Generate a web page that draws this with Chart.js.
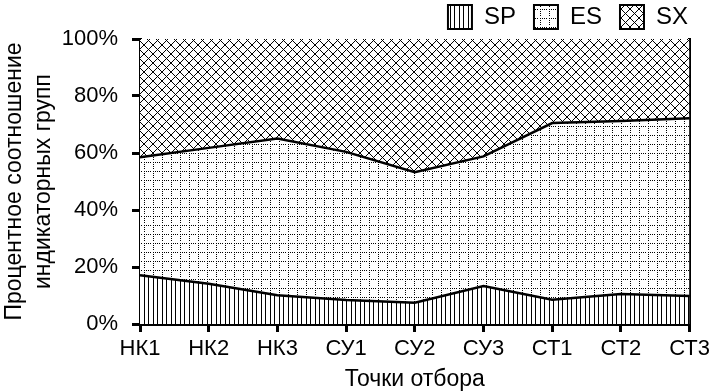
<!DOCTYPE html>
<html>
<head>
<meta charset="utf-8">
<script src="https://cdn.jsdelivr.net/npm/chart.js@4.4.1/dist/chart.umd.min.js"></script>
<style>
  html, body { margin: 0; padding: 0; background: #fff; }
  canvas { display: block; }
</style>
</head>
<body>
<canvas id="myChart" width="714" height="391"></canvas>
<script>
// точки отбора
const labels = ["НК1", "НК2", "НК3", "СУ1", "СУ2", "СУ3", "СТ1", "СТ2", "СТ3"];
// доли групп, %
const sp = [17.1, 14.1, 10.1, 8.4, 7.5, 13.3, 8.5, 10.5, 9.8];
const es = [41.4, 47.7, 55.0, 52.0, 45.8, 45.5, 62.0, 60.7, 62.4];
const sx = [41.5, 38.2, 34.9, 39.6, 46.7, 41.2, 29.5, 28.8, 27.8];
const yTicks = [0, 20, 40, 60, 80, 100];

const FONT = "'Liberation Sans', Arial, sans-serif";

function makePattern(size, draw) {
  const c = document.createElement("canvas");
  c.width = size;
  c.height = size;
  const g = c.getContext("2d");
  g.fillStyle = "#fff";
  g.fillRect(0, 0, size, size);
  g.fillStyle = "#000";
  draw(g, size);
  return c.getContext("2d").createPattern(c, "repeat");
}

// вертикальные линии
const spPattern = makePattern(9, (g, n) => {
  g.fillRect(0, 0, 1, n);
  g.fillRect(4, 0, 1, n);
});
// пунктирная сетка
const esPattern = makePattern(9, (g, n) => {
  for (let i = 0; i < n - 1; i += 2) {
    g.fillRect(i, 0, 1, 1);
    g.fillRect(0, i, 1, 1);
  }
});
// косая сетка
const sxPattern = makePattern(9, (g, n) => {
  for (let i = 0; i < n; i++) {
    g.fillRect(i, i, 1, 1);
    g.fillRect(n - 1 - i, i, 1, 1);
  }
});

const ctx = document.getElementById("myChart").getContext("2d");
const myChart = new Chart(ctx, {
  type: "line",
  data: {
    labels: labels,
    datasets: [
      { label: "SP", data: sp, fill: "origin", backgroundColor: spPattern,
        borderColor: "#000", borderWidth: 2.5, pointRadius: 0, tension: 0 },
      { label: "ES", data: es, fill: "-1", backgroundColor: esPattern,
        borderColor: "#000", borderWidth: 2.5, pointRadius: 0, tension: 0 },
      { label: "SX", data: sx, fill: "-1", backgroundColor: sxPattern,
        borderColor: "#000", borderWidth: 0, pointRadius: 0, tension: 0 },
    ],
  },
  options: {
    responsive: false,
    animation: false,
    devicePixelRatio: 1,
    layout: { padding: { left: 0, right: 8, top: -13, bottom: 0 } },
    plugins: {
      tooltip: { enabled: false },
      legend: {
        position: "top",
        align: "end",
        labels: {
          boxWidth: 24,
          boxHeight: 24,
          padding: 18,
          color: "#000",
          font: { family: FONT, size: 24 },
          generateLabels: (chart) =>
            chart.data.datasets.map((d, i) => ({
              text: d.label,
              fillStyle: d.backgroundColor,
              strokeStyle: "#000",
              lineWidth: 2,
              datasetIndex: i,
            })),
        },
      },
    },
    scales: {
      x: {
        offset: false,
        grid: { drawOnChartArea: false, color: "#000", lineWidth: 3, tickLength: 8 },
        border: { color: "#000", width: 3 },
        ticks: { color: "#000", font: { family: FONT, size: 22 }, padding: 4, maxRotation: 0 },
        title: { display: true, text: "Точки отбора", color: "#000",
                 font: { family: FONT, size: 23, lineHeight: 1.0 }, padding: { top: 0, bottom: 0 } },
        afterFit: (s) => { s.height = 67; },
      },
      y: {
        stacked: true,
        min: 0,
        max: 100,
        afterBuildTicks: (s) => { s.ticks = yTicks.map((v) => ({ value: v })); },
        grid: { drawOnChartArea: false, color: "#000", lineWidth: 3, tickLength: 8 },
        border: { color: "#000", width: 3 },
        ticks: { color: "#000", font: { family: FONT, size: 22 }, padding: 14,
                 callback: (v) => v + "%" },
        title: { display: true, text: ["Процентное соотношение", "индикаторных групп"],
                 color: "#000", font: { family: FONT, size: 23, lineHeight: 1.26 },
                 padding: { top: 0, bottom: 0 } },
        afterFit: (s) => { s.width = 140; },
      },
      y2: {
        position: "right",
        min: 0,
        max: 100,
        grid: { display: false },
        border: { color: "#000", width: 3 },
        ticks: { display: false },
        afterFit: (s) => { s.width = 14; },
      },
    },
  },
});
</script>
</body>
</html>
